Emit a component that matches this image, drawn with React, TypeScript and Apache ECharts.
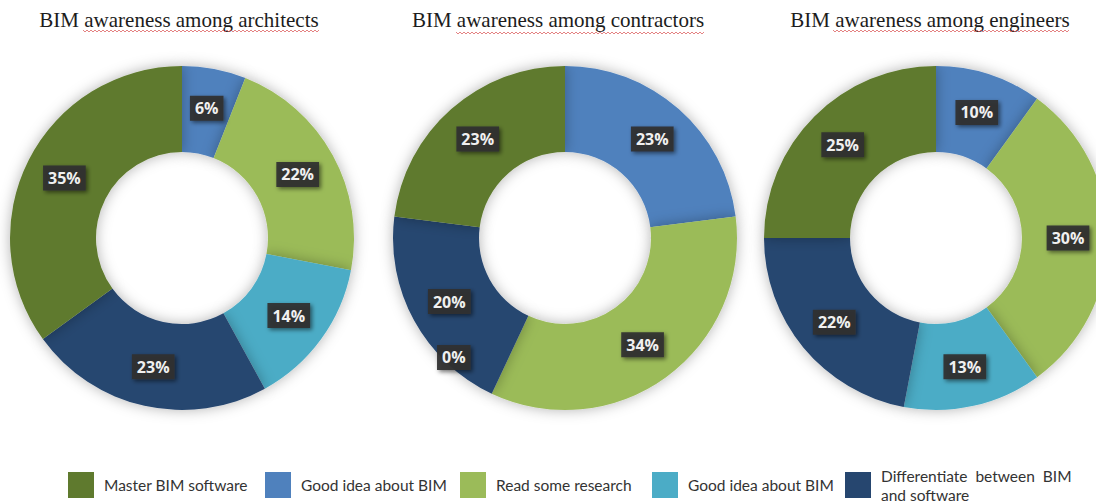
import React, { useEffect, useRef } from "react";
import * as echarts from "echarts";

// Legend order (left to right)
const legendKeys = ["master", "good1", "read", "good2", "diff"];
const legendLabels = [
  "Master BIM software",
  "Good idea about BIM",
  "Read some research",
  "Good idea about BIM",
  "Differentiate  between  BIM\nand software",
];
// Pie slice order, clockwise from 12 o'clock
const sliceKeys = ["good1", "read", "good2", "diff", "master"];
const architects = [6, 22, 14, 23, 35];
const contractors = [23, 34, 0, 20, 23];
const engineers = [10, 30, 13, 22, 25];
const chartTitles = [
  "BIM awareness among architects",
  "BIM awareness among contractors",
  "BIM awareness among engineers",
];

const colors: Record<string, string> = {
  master: "#5f7a2e",
  good1: "#4f81bd",
  read: "#9bbb59",
  good2: "#4bacc6",
  diff: "#26466f",
};

const centers = [
  [182, 238],
  [565, 238],
  [936, 238],
];
const titleX = [179, 558, 930];
const legendLeft = [68, 265, 460, 652, 845];

function squiggle(x0: number, x1: number, y: number) {
  const pts: number[][] = [];
  let up = true;
  for (let x = x0; x <= x1; x += 2) {
    pts.push([x, y + (up ? -1 : 1)]);
    up = !up;
  }
  return {
    type: "polyline",
    silent: true,
    shape: { points: pts },
    style: { stroke: "rgba(214,70,70,0.75)", lineWidth: 0.9, fill: null },
  };
}

export default function App() {
  const ref = useRef<HTMLDivElement>(null);
  useEffect(() => {
    if (!ref.current) return;
    const chart = echarts.init(ref.current, null, { renderer: "svg" });
    const datasets = [architects, contractors, engineers];
    const series = datasets.map((vals, si) => ({
      type: "pie",
      radius: [86, 172],
      center: centers[si],
      startAngle: 90,
      clockwise: true,
      avoidLabelOverlap: false,
      silent: true,
      emphasis: { disabled: true },
      labelLine: { show: false },
      itemStyle: {
        shadowBlur: 14,
        shadowColor: "rgba(0,0,0,0.3)",
      },
      label: {
        show: true,
        position: "inside",
        formatter: "{c}%",
        color: "#f0f0f0",
        fontWeight: "bold",
        fontSize: 16,
        fontFamily: "Open Sans",
        backgroundColor: "rgba(48,48,50,0.93)",
        padding: [5, 5, 4, 5],
        shadowBlur: 4,
        shadowColor: "rgba(0,0,0,0.55)",
        shadowOffsetX: 2,
        shadowOffsetY: 2,
      },
      data: vals.map((v, i) => ({
        name: sliceKeys[i],
        value: v,
        itemStyle: { color: colors[sliceKeys[i]] },
        label: v === 0 ? { offset: [-55, 0] } : undefined,
      })),
    }));

    const legends = legendKeys.map((k, i) => ({
      left: legendLeft[i],
      top: i === 4 ? 466 : 472,
      padding: 0,
      orient: "horizontal",
      icon: "rect",
      itemWidth: 26,
      itemHeight: 26,
      selectedMode: false,
      data: [k],
      formatter: () => legendLabels[i],
      textStyle: {
        fontFamily: "Lato",
        fontSize: 15.5,
        color: "#333",
        padding: [0, 0, 0, 5],
        lineHeight: 19,
      },
    }));

    const titleGraphics = chartTitles.map((t, i) => ({
      type: "text",
      x: titleX[i],
      y: 20,
      silent: true,
      style: {
        text: t,
        font: "21px 'Liberation Serif', 'Times New Roman', serif",
        fill: "#1c1c1c",
        textAlign: "center",
        textVerticalAlign: "middle",
      },
    }));

    chart.setOption({
      animation: false,
      backgroundColor: "#ffffff",
      legend: legends,
      graphic: [
        ...titleGraphics,
        squiggle(83, 320, 31),
        squiggle(456, 705, 33),
        squiggle(833, 1070, 31),
      ],
      series,
    });
    return () => chart.dispose();
  }, []);
  return (
    <div
      ref={ref}
      style={{ position: "fixed", left: 0, top: 0, width: 1096, height: 503 }}
    />
  );
}
